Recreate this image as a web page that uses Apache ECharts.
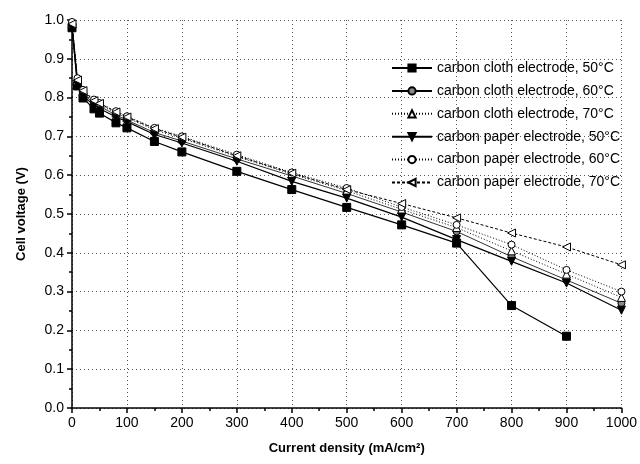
<!DOCTYPE html>
<html>
<head>
<meta charset="utf-8">
<script src="https://cdn.jsdelivr.net/npm/echarts@6/dist/echarts.min.js"></script>
<style>
  html, body { margin: 0; padding: 0; background: #fff; }
  #chart { width: 640px; height: 464px; }
</style>
</head>
<body>
<div id="chart"></div>
<script>
var currentDensity = [0, 10, 20, 40, 50, 80, 100, 150, 200, 300, 400, 500, 600, 700, 800, 900, 1000];
var xTicks = [0, 100, 200, 300, 400, 500, 600, 700, 800, 900, 1000];
var yTicks = [0.0, 0.1, 0.2, 0.3, 0.4, 0.5, 0.6, 0.7, 0.8, 0.9, 1.0];

var cloth50 = [0.980, 0.830, 0.799, 0.771, 0.760, 0.735, 0.722, 0.687, 0.660, 0.610, 0.563, 0.517, 0.472, 0.425, 0.264, 0.185, null];
var cloth60 = [0.990, 0.840, 0.810, 0.785, 0.778, 0.755, 0.742, 0.710, 0.688, 0.642, 0.598, 0.553, 0.505, 0.455, 0.390, 0.330, 0.270];
var cloth70 = [0.990, 0.845, 0.815, 0.790, 0.782, 0.760, 0.748, 0.717, 0.695, 0.648, 0.603, 0.560, 0.512, 0.465, 0.405, 0.345, 0.285];
var paper50 = [0.980, 0.835, 0.805, 0.780, 0.772, 0.750, 0.738, 0.705, 0.683, 0.636, 0.584, 0.541, 0.492, 0.434, 0.378, 0.322, 0.252];
var paper60 = [0.995, 0.850, 0.820, 0.795, 0.786, 0.765, 0.752, 0.722, 0.700, 0.653, 0.607, 0.567, 0.518, 0.472, 0.421, 0.356, 0.300];
var paper70 = [0.990, 0.845, 0.818, 0.792, 0.785, 0.763, 0.750, 0.720, 0.698, 0.650, 0.605, 0.563, 0.527, 0.490, 0.451, 0.415, 0.369];

var seriesNames = [
    'carbon cloth electrode, 50°C',
    'carbon cloth electrode, 60°C',
    'carbon cloth electrode, 70°C',
    'carbon paper electrode, 50°C',
    'carbon paper electrode, 60°C',
    'carbon paper electrode, 70°C'
];

function pairs(ys) {
    var out = [];
    for (var i = 0; i < currentDensity.length; i++) {
        if (ys[i] !== null) out.push([currentDensity[i], ys[i]]);
    }
    return out;
}

var downTri = 'path://M0,0 L10,0 L5,9 Z';
var leftTri = 'path://M0,5 L9,0 L9,10 Z';

function makeSeries(name, ys, symbol, size, fill, lineType, lineWidth) {
    return {
        name: name,
        type: 'line',
        data: pairs(ys),
        symbol: symbol,
        symbolSize: size,
        showAllSymbol: true,
        lineStyle: { color: '#000', width: lineWidth, type: lineType },
        itemStyle: { color: fill, borderColor: '#000', borderWidth: 1 },
        emphasis: { disabled: true },
        animation: false
    };
}

var myChart = echarts.init(document.getElementById('chart'));

var gridStyle = { show: true, lineStyle: { color: '#555', type: [1, 3], width: 1 } };
var fontFam = 'Liberation Sans, Arial, sans-serif';

var option = {
    backgroundColor: '#fff',
    animation: false,
    grid: { left: 72, right: 18, top: 20, bottom: 56 },
    legend: {
        orient: 'vertical',
        left: 386,
        top: 56,
        itemWidth: 40,
        itemHeight: 9,
        itemGap: 8.9,
        textStyle: { fontFamily: fontFam, fontSize: 14, color: '#000' },
        data: seriesNames
    },
    xAxis: {
        type: 'value',
        min: 0,
        max: 1000,
        interval: 100,
        name: 'Current density (mA/cm²)',
        nameLocation: 'middle',
        nameGap: 34,
        nameTextStyle: { fontFamily: fontFam, fontSize: 13, fontWeight: 'bold', color: '#000' },
        axisLine: { lineStyle: { color: '#000', width: 1.5 } },
        axisTick: { inside: false, length: 5, lineStyle: { color: '#000', width: 1.5 } },
        minorTick: { show: true, splitNumber: 2, length: 3, lineStyle: { color: '#000', width: 1.5 } },
        axisLabel: {
            fontFamily: fontFam, fontSize: 14, color: '#000', margin: 8,
            formatter: function (v) { return xTicks.indexOf(v) >= 0 ? String(v) : ''; }
        },
        splitLine: gridStyle
    },
    yAxis: {
        type: 'value',
        min: 0,
        max: 1.0,
        interval: 0.1,
        name: 'Cell voltage (V)',
        nameLocation: 'middle',
        nameRotate: 90,
        nameGap: 44,
        nameTextStyle: { fontFamily: fontFam, fontSize: 13, fontWeight: 'bold', color: '#000' },
        axisLine: { show: true, lineStyle: { color: '#000', width: 1.5 } },
        axisTick: { show: true, inside: false, length: 5, lineStyle: { color: '#000', width: 1.5 } },
        minorTick: { show: true, splitNumber: 2, length: 3, lineStyle: { color: '#000', width: 1.5 } },
        axisLabel: {
            fontFamily: fontFam, fontSize: 14, color: '#000', margin: 8,
            formatter: function (v) { return v.toFixed(1); }
        },
        splitLine: gridStyle
    },
    series: [
        makeSeries(seriesNames[0], cloth50, 'rect', 8, '#000', 'solid', 1.2),
        makeSeries(seriesNames[1], cloth60, 'circle', 7, '#888', 'solid', 0.8),
        makeSeries(seriesNames[2], cloth70, 'triangle', 8, '#fff', [1, 2], 1),
        makeSeries(seriesNames[3], paper50, downTri, 8, '#000', 'solid', 1.2),
        makeSeries(seriesNames[4], paper60, 'circle', 7, '#fff', [1, 2], 1),
        makeSeries(seriesNames[5], paper70, leftTri, 8, '#fff', [3, 2], 1)
    ]
};

myChart.setOption(option);
</script>
</body>
</html>
